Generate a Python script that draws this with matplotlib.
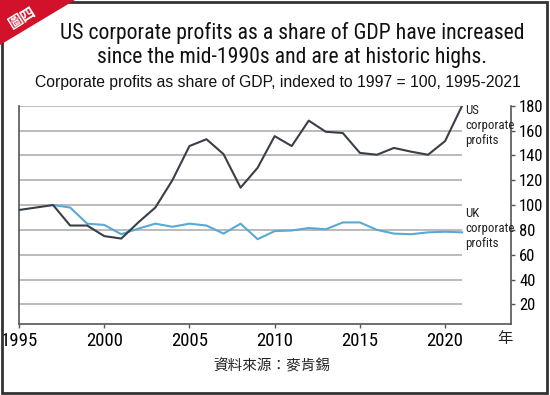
import matplotlib
matplotlib.use('Agg')
import matplotlib.pyplot as plt
from matplotlib.patches import Polygon, Rectangle

plt.rcParams['font.family'] = ['Roboto Condensed', 'Liberation Sans', 'Noto Sans CJK TC', 'DejaVu Sans']

# data (index, 1997 = 100)
us_years = list(range(1995, 2022))
us_profits = [96, 98, 100, 83.5, 83.5, 75, 73, 86, 98, 120, 147.5, 153, 141, 114, 130,
              155.5, 147.5, 168, 159, 158, 142, 140.5, 146, 143, 140.5, 151.5, 180]
uk_years = list(range(1997, 2022))
uk_profits = [100, 98, 85, 84, 76.5, 81, 85, 82.5, 85, 83.5, 77, 85, 72.5,
              79, 79.5, 81.5, 80.5, 86, 86, 80, 77, 76.5, 78, 78.5, 78]
x_ticks = [1995, 2000, 2005, 2010, 2015, 2020]
y_ticks = [20, 40, 60, 80, 100, 120, 140, 160, 180]

title = 'US corporate profits as a share of GDP have increased\nsince the mid-1990s and are at historic highs.'
subtitle = 'Corporate profits as share of GDP, indexed to 1997 = 100, 1995-2021'
source = '資料來源：麥肯錫'

fig = plt.figure(figsize=(5.5, 3.95), dpi=100)
ax = fig.add_axes([19/550, 1 - 324/395, (510.7 - 19)/550, (324 - 105.7)/395])

# gridlines only across the data span
ax.hlines(y_ticks, 1995, 2021, color='#b5b5b5', lw=1.3, zorder=1)
ax.plot(us_years, us_profits, color='#3a3e47', lw=1.5, zorder=3)
ax.plot(uk_years, uk_profits, color='#5aa9d4', lw=1.5, zorder=2)

ax.set_xlim(1995, 2023.85)
ax.set_ylim(4.2, 180)
ax.set_xticks(x_ticks)
ax.set_yticks(y_ticks)
ax.yaxis.tick_right()
ax.tick_params(axis='x', direction='out', length=3, width=1, color='#555555',
               labelsize=13.5, pad=3)
ax.tick_params(axis='y', direction='out', length=3, width=1, color='#555555',
               labelsize=12, pad=3)
ax.spines['top'].set_visible(False)
for s in ['left', 'right', 'bottom']:
    ax.spines[s].set_color('#555555')
    ax.spines[s].set_linewidth(1.2)

ax.text(2021.2, 181, 'US\ncorporate\nprofits', fontsize=9.3, va='top', ha='left',
        linespacing=1.2, color='#222222')
ax.text(2021.2, 98.5, 'UK\ncorporate\nprofits', fontsize=9.3, va='top', ha='left',
        linespacing=1.2, color='#222222')

fig.text(292/550, 1 - 45/395, title, fontsize=15.7, ha='center', va='center',
         linespacing=1.15, color='#111111')
fig.text(278/550, 1 - 82/395, subtitle, fontsize=11.3, ha='center', va='center',
         family=['Liberation Sans', 'DejaVu Sans'], color='#111111')
fig.text(505/550, 1 - 339/395, '年', fontsize=11, ha='center', va='center',
         family=['Noto Sans CJK TC', 'DejaVu Sans'], color='#222222')
fig.text(272/550, 1 - 366/395, source, fontsize=10.5, ha='center', va='center',
         family=['Noto Sans CJK TC', 'DejaVu Sans'], color='#222222')

# red corner tag and frame
fig.patches.append(Polygon([(0, 1), (75/550, 1), (0, 1 - 45/395)], closed=True,
                           transform=fig.transFigure, facecolor='#d2122b',
                           edgecolor='none', zorder=5))
fig.text(22/550, 1 - 17/395, '圖四', fontsize=10.5, rotation=32, ha='center', va='center',
         color='white', fontweight='bold', family=['Noto Sans CJK TC', 'DejaVu Sans'],
         zorder=6)
fig.patches.append(Rectangle((0.003, 0.004), 0.992, 0.992, transform=fig.transFigure,
                             fill=False, edgecolor='#333333', lw=2, zorder=4))

fig.savefig('out.png', dpi=100)
